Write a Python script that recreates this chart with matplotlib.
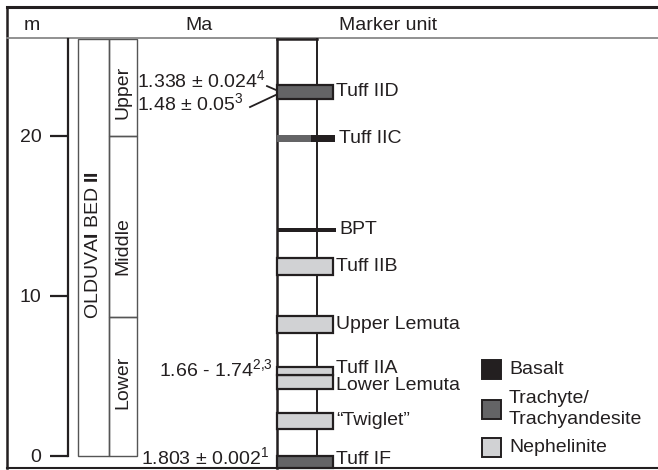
import matplotlib.pyplot as plt
from matplotlib.patches import Rectangle

plt.rcParams['font.family'] = 'Liberation Sans'
plt.rcParams['mathtext.fontset'] = 'custom'
plt.rcParams['mathtext.rm'] = 'Liberation Sans'
plt.rcParams['mathtext.it'] = 'Liberation Sans:italic'
plt.rcParams['mathtext.bf'] = 'Liberation Sans:bold'

ink = '#231f20'
fs = 14

# lithologies (legend order)
litho_names = ['Basalt', 'Trachyte/\nTrachyandesite', 'Nephelinite']
litho_keys = ['B', 'T', 'N']
litho_colors = ['#231f20', '#646466', '#d1d2d4']

# marker units, depth in m
units = ['Tuff IF', '\u201cTwiglet\u201d', 'Lower Lemuta', 'Tuff IIA', 'Upper Lemuta',
         'Tuff IIB', 'BPT', 'Tuff IIC', 'Tuff IID']
unit_base = [-0.75, 1.7, 4.19, 5.06, 7.7, 11.3, 14.0, 19.6, 22.3]
unit_top = [0.0, 2.7, 5.06, 5.56, 8.75, 12.4, 14.25, 20.06, 23.2]
unit_litho = ['T', 'N', 'N', 'N', 'N', 'N', 'B', 'TB', 'T']

# Bed II subdivisions
members = ['Lower', 'Middle', 'Upper']
member_bounds = [0, 8.7, 20, 26.06]

# ages (Ma)
ages = ['1.338 \u00b1 0.024$^4$', '1.48 \u00b1 0.05$^3$', '1.66 - 1.74$^{2{,}3}$', '1.803 \u00b1 0.002$^1$']
age_depth = [23.5, 22.06, 5.4, -0.06]

depth_ticks = [0, 10, 20]

fig = plt.figure(figsize=(6.58, 4.70), dpi=100)
ax = fig.add_axes([0, 0, 1, 1])
ax.set_xlim(0, 658)
ax.set_ylim(-0.875, 28.5)

top = member_bounds[-1]
frame_top, frame_bot, head = 28.06, -0.75, 26.125

# frame and header
ax.plot([7, 658], [frame_top, frame_top], color=ink, lw=2.2)
ax.plot([7, 7], [frame_bot, frame_top], color=ink, lw=1.8)
ax.plot([7, 658], [frame_bot, frame_bot], color=ink, lw=1.5)
ax.plot([7, 658], [head, head], color='#888888', lw=1.3)
ax.text(32, 26.9, 'm', ha='center', va='center', fontsize=fs, color=ink)
ax.text(199, 26.9, 'Ma', ha='center', va='center', fontsize=fs, color=ink)
ax.text(388, 26.9, 'Marker unit', ha='center', va='center', fontsize=fs, color=ink)

# depth axis
for s in ['top', 'right', 'bottom']:
    ax.spines[s].set_visible(False)
ax.spines['left'].set_position(('data', 68))
ax.spines['left'].set_bounds(0, top)
ax.spines['left'].set_linewidth(1.6)
ax.spines['left'].set_color(ink)
ax.set_yticks(depth_ticks)
ax.tick_params(axis='y', direction='out', length=13, width=1.6, pad=6,
               labelsize=fs, colors=ink)
ax.set_xticks([])

# Bed II column
ax.add_patch(Rectangle((78, 0), 31, top, fill=False, ec='#555555', lw=1.0))
ax.text(93.5, 13.2, r'OLDUVA$\mathbf{I}$ BED $\mathbf{II}$', rotation=90,
        ha='center', va='center', fontsize=fs, color=ink)
member_label_y = [4.6, 13.15, 22.75]
for name, lo, hi, ly in zip(members, member_bounds[:-1], member_bounds[1:], member_label_y):
    ax.add_patch(Rectangle((109, lo), 28, hi - lo, fill=False, ec='#555555', lw=1.0))
    ax.text(123, ly, name, rotation=90, ha='center', va='center', fontsize=fs, color=ink)

# marker column
ax.plot([277, 277], [frame_bot, top], color=ink, lw=1.8, zorder=2)
ax.plot([317, 317], [frame_bot, top], color=ink, lw=1.4, zorder=2)
ax.plot([277, 317], [top, top], color=ink, lw=1.8, zorder=2)

cmap = dict(zip(litho_keys, litho_colors))
nudge = {'Tuff IIA': 0.15, 'Lower Lemuta': -0.2, 'Tuff IF': 0.15}
for name, lo, hi, lit in zip(units, unit_base, unit_top, unit_litho):
    if len(lit) == 2:
        ax.add_patch(Rectangle((277, lo), 34, hi - lo, fc=cmap[lit[0]], ec='none', zorder=3))
        ax.add_patch(Rectangle((311, lo), 24, hi - lo, fc=cmap[lit[1]], ec='none', zorder=3))
        lx = 339
    elif hi - lo < 0.4:
        ax.add_patch(Rectangle((277, lo), 59, hi - lo, fc=cmap[lit], ec='none', zorder=3))
        lx = 339
    else:
        ax.add_patch(Rectangle((277, lo), 56, hi - lo, fc=cmap[lit], ec=ink, lw=1.6, zorder=3))
        lx = 336
    ax.text(lx, (lo + hi) / 2 + nudge.get(name, 0), name, ha='left', va='center',
            fontsize=fs, color=ink)

# ages
ax.text(137, age_depth[0], ages[0], ha='left', va='center', fontsize=fs, color=ink)
ax.text(137, age_depth[1], ages[1], ha='left', va='center', fontsize=fs, color=ink)
ax.text(273, age_depth[2], ages[2], ha='right', va='center', fontsize=fs, color=ink)
ax.text(141, age_depth[3], ages[3], ha='left', va='center', fontsize=fs, color=ink)
iid = units.index('Tuff IID')
mid = (unit_base[iid] + unit_top[iid]) / 2
ax.plot([267, 277], [age_depth[0] - 0.38, mid + 0.1], color=ink, lw=1.3)
ax.plot([250, 277], [age_depth[1] - 0.25, mid - 0.15], color=ink, lw=1.3)

# legend
leg_y = [5.43, 2.93, 0.53]
for name, col, y in zip(litho_names, litho_colors, leg_y):
    ax.add_patch(Rectangle((482, y - 0.6), 19, 1.2, fc=col, ec=ink, lw=1.4))
    ax.text(509, y, name, ha='left', va='center', fontsize=fs, color=ink, linespacing=1.3)

fig.savefig('out.png', dpi=100)
